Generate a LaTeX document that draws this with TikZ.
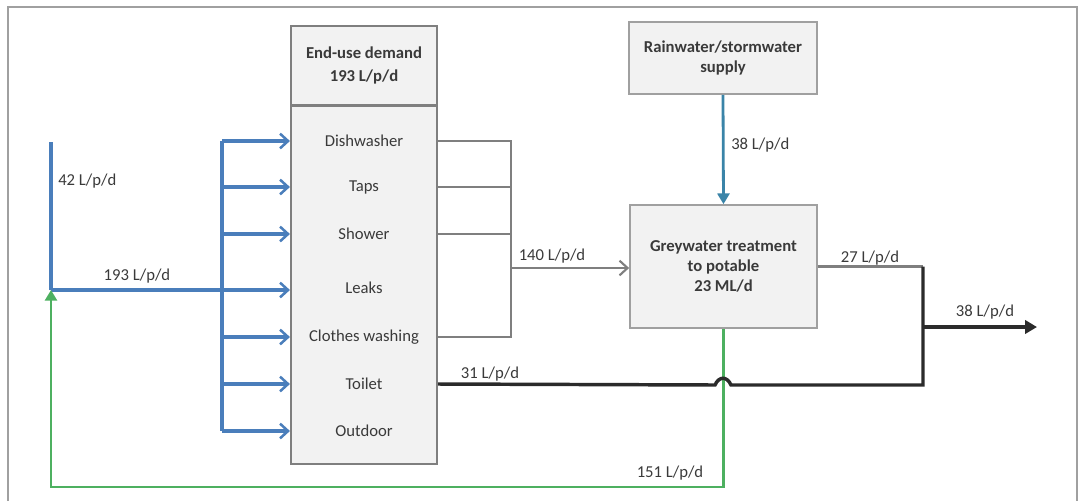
\documentclass[tikz,border=0pt]{standalone}
\usepackage{fontspec}
\setmainfont{Carlito}
\usetikzlibrary{arrows.meta}
\definecolor{fblue}{HTML}{4A7EBB}
\definecolor{rblue}{HTML}{3A84A8}
\definecolor{fgreen}{HTML}{4DB060}
\definecolor{fgray}{HTML}{7F7F7F}
\definecolor{fdark}{HTML}{2B2B2B}
\definecolor{ftext}{HTML}{3A3A3A}
\definecolor{boxfill}{HTML}{F2F2F2}
\definecolor{frameclr}{HTML}{A0A0A0}
\begin{document}
\begin{tikzpicture}[x=0.75pt,y=-0.75pt,
  every node/.style={text=ftext,font=\fontsize{12.5}{15}\selectfont},
  darkbox/.style={draw=fgray,line width=1.6pt,fill=boxfill,inner sep=0pt},
  lightbox/.style={draw=frameclr,line width=1.3pt,fill=boxfill,inner sep=0pt,align=center,font=\bfseries\fontsize{12.5}{15}\selectfont},
  itemtxt/.style={inner sep=0pt},
  flowlbl/.style={inner sep=0pt,font=\fontsize{12.5}{15}\selectfont},
  bl/.style={draw=fblue,line width=2.3pt},
  blarr/.style={bl,-{Straight Barb[length=6pt,width=11pt,line width=1.9pt]}},
  gl/.style={draw=fgray,line width=1.8pt},
  glarr/.style={gl,-{Straight Barb[length=6pt,width=11pt,line width=1.6pt]}},
  gr/.style={draw=fgreen,line width=2.1pt},
  dk/.style={draw=fdark,line width=2.6pt},
  fr/.style={draw=frameclr,line width=1pt}]
\useasboundingbox (0,0) rectangle (1083,501);
\draw[fr] (8,501) -- (8,7) -- (1077,7) -- (1077,501);

% boxes
\node[darkbox,minimum width=146*0.75pt,minimum height=79*0.75pt,align=center,font=\bfseries\fontsize{12.5}{17}\selectfont] (head) at (364,65.5) {End-use demand\\193 L/p/d};
\node[darkbox,minimum width=146*0.75pt,minimum height=358*0.75pt] (demand) at (364,285) {};
\node[lightbox,minimum width=188*0.75pt,minimum height=72*0.75pt] (rain) at (723,58) {Rainwater/stormwater\\supply};
\node[lightbox,minimum width=187*0.75pt,minimum height=123*0.75pt] (treat) at (723.5,266.5) {Greywater treatment\\to potable\\23 ML/d};

% items
\node[itemtxt] (dish) at (364,141) {Dishwasher};
\node[itemtxt] (taps) at (364,187) {Taps};
\node[itemtxt] (shower) at (364,234) {Shower};
\node[itemtxt] (leaks) at (364,288) {Leaks};
\node[itemtxt] (cloth) at (364,337) {Clothes washing};
\node[itemtxt] (toilet) at (364,384) {Toilet};
\node[itemtxt] (outdoor) at (364,431) {Outdoor};

% coordinates
\coordinate (src) at (51,142);
\coordinate (jn) at (51,290);
\coordinate (busT) at (222,141);
\coordinate (busB) at (222,431);
\coordinate (cT) at (511,141);
\coordinate (cB) at (511,337);
\coordinate (cM) at (511,268);
\coordinate (oj) at (923,266.5);
\coordinate (om) at (923,327);
\coordinate (ob) at (923,385);
\coordinate (oend) at (1037,327);
\coordinate (hopR) at (731,385);
\coordinate (hopL) at (715,385);
\coordinate (gb) at (723.5,487);
\coordinate (gl) at (51,487);

% blue supply
\draw[bl] (src) -- (jn);
\draw[bl] (busT) -- (busB);
\draw[blarr] (jn) -- (demand.west |- jn);
\foreach \n in {dish,taps,shower,cloth,toilet,outdoor}
  \draw[blarr] (busT |- \n) -- (demand.west |- \n);

% grey collection
\draw[gl] (demand.east |- dish) -- (cT) -- (cB) -- (demand.east |- cloth);
\draw[gl] (demand.east |- taps) -- (cT |- taps);
\draw[gl] (demand.east |- shower) -- (cT |- shower);
\draw[glarr] (cM) -- (treat.west |- cM);

% rain
\draw[draw=rblue,line width=2.1pt,-{Triangle[length=8pt,width=9pt]}] (rain.south) -- (treat.north);

% green return
\draw[gr,-{Triangle[length=8pt,width=9pt]}] (treat.south) -- (gb) -- (gl) -- (jn);

% outflows
\draw[gl] (treat.east) -- (oj);
\draw[dk] (oj) -- (ob) -- (hopR) .. controls (727,376) and (719,376) .. (hopL) -- (demand.east |- toilet);
\draw[dk,-{Triangle[length=9pt,width=10pt]}] (om) -- (oend);

% labels
\node[flowlbl,anchor=west] (l42) at (58,181) {42 L/p/d};
\node[flowlbl] (l193) at (137,276) {193 L/p/d};
\node[flowlbl] (l140) at (552,256) {140 L/p/d};
\node[flowlbl,anchor=west] (l38a) at (731,145) {38 L/p/d};
\node[flowlbl] (l27) at (870,258) {27 L/p/d};
\node[flowlbl] (l38b) at (985,312) {38 L/p/d};
\node[flowlbl] (l31) at (490,374) {31 L/p/d};
\node[flowlbl] (l151) at (670,473) {151 L/p/d};
\end{tikzpicture}
\end{document}
